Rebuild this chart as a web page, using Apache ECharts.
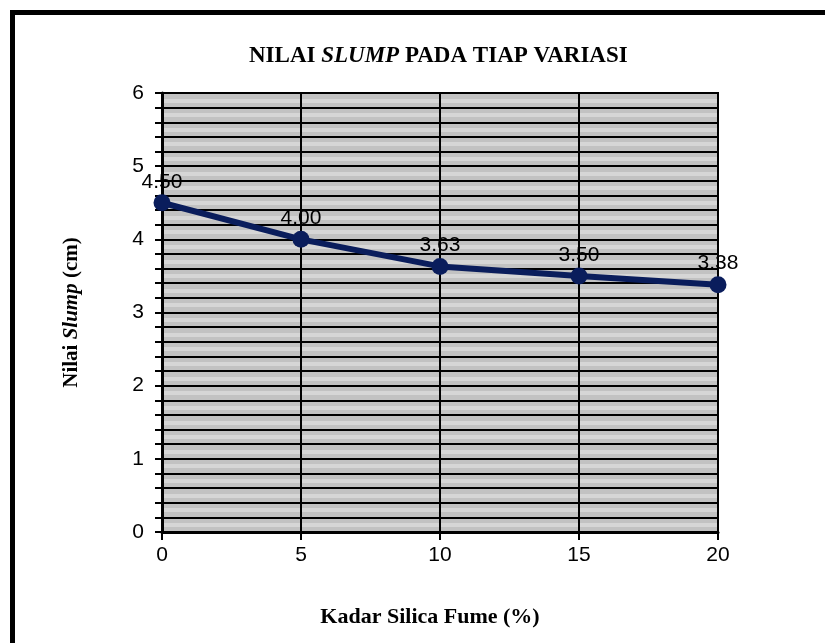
<!DOCTYPE html>
<html>
<head>
<meta charset="utf-8">
<script src="https://cdn.jsdelivr.net/npm/echarts@6/dist/echarts.min.js"></script>
<style>
  html, body { margin: 0; padding: 0; background: #ffffff; }
  #chart { width: 825px; height: 643px; }
</style>
</head>
<body>
<div id="chart"></div>
<script>
// Silica fume content (%) and measured slump (cm)
const kadarSilicaFume = [0, 5, 10, 15, 20];
const nilaiSlump = [4.50, 4.00, 3.63, 3.50, 3.38];
const xTicks = [0, 5, 10, 15, 20];
const yTicks = [0, 1, 2, 3, 4, 5, 6];

const serif = '"Liberation Serif", "Times New Roman", serif';
const sans = '"Liberation Sans", Arial, sans-serif';

const chart = echarts.init(document.getElementById('chart'));

chart.setOption({
  backgroundColor: '#ffffff',
  animation: false,
  title: {
    text: '{b|NILAI }{i|SLUMP}{b| PADA TIAP VARIASI}',
    left: 244,
    top: 40,
    textStyle: {
      rich: {
        b: { fontFamily: serif, fontWeight: 'bold', fontSize: 23, color: '#000' },
        i: { fontFamily: serif, fontWeight: 'bold', fontStyle: 'italic', fontSize: 23, color: '#000' }
      }
    }
  },
  graphic: [{
    type: 'rect',
    shape: { x: 12.5, y: 12.5, width: 900, height: 700 },
    style: { fill: null, stroke: '#000', lineWidth: 5 },
    silent: true
  }],
  grid: {
    left: 162, right: 107, top: 93, bottom: 111,
    show: true,
    backgroundColor: '#c2c2c2',
    borderColor: '#000',
    borderWidth: 2
  },
  xAxis: {
    type: 'value',
    min: xTicks[0],
    max: xTicks[xTicks.length - 1],
    interval: 5,
    name: 'Kadar Silica Fume (%)',
    nameLocation: 'middle',
    nameGap: 74,
    nameTextStyle: {
      fontFamily: serif, fontWeight: 'bold', fontSize: 22, color: '#000',
      padding: [0, 20, 0, 0]
    },
    axisLine: { show: true, lineStyle: { color: '#000', width: 3 } },
    axisTick: { show: true, length: 8, inside: false, lineStyle: { color: '#000', width: 2 } },
    axisLabel: { fontFamily: sans, fontSize: 21, color: '#000', margin: 13 },
    splitLine: { show: true, lineStyle: { color: '#000', width: 2 } }
  },
  yAxis: {
    type: 'value',
    min: yTicks[0],
    max: yTicks[yTicks.length - 1],
    interval: 0.2,
    name: '{b|Nilai }{i|Slump}{b| (cm)}',
    nameLocation: 'middle',
    nameGap: 80,
    nameRotate: 90,
    nameTextStyle: {
      rich: {
        b: { fontFamily: serif, fontWeight: 'bold', fontSize: 21, color: '#000' },
        i: { fontFamily: serif, fontWeight: 'bold', fontStyle: 'italic', fontSize: 21, color: '#000' }
      }
    },
    axisLine: { show: true, lineStyle: { color: '#000', width: 3 } },
    axisTick: { show: true, length: 7, lineStyle: { color: '#000', width: 2 } },
    axisLabel: {
      fontFamily: sans, fontSize: 21, color: '#000', margin: 18,
      formatter: function (v) {
        const r = Math.round(v);
        return Math.abs(v - r) < 1e-6 && yTicks.indexOf(r) >= 0 ? String(r) : '';
      }
    },
    splitLine: { show: true, lineStyle: { color: '#000', width: 2 } },
    minorTick: { show: false, splitNumber: 2 },
    minorSplitLine: { show: true, lineStyle: { color: '#d6d6d6', width: 4 } }
  },
  series: [{
    type: 'line',
    data: kadarSilicaFume.map((x, i) => [x, nilaiSlump[i]]),
    symbol: 'circle',
    symbolSize: 17,
    lineStyle: { color: '#0a1d5c', width: 6 },
    itemStyle: { color: '#0a1d5c' },
    label: {
      show: true,
      position: 'top',
      distance: 2,
      fontFamily: sans,
      fontSize: 21,
      color: '#000',
      formatter: p => p.value[1].toFixed(2)
    },
    z: 5
  }]
});
</script>
</body>
</html>
